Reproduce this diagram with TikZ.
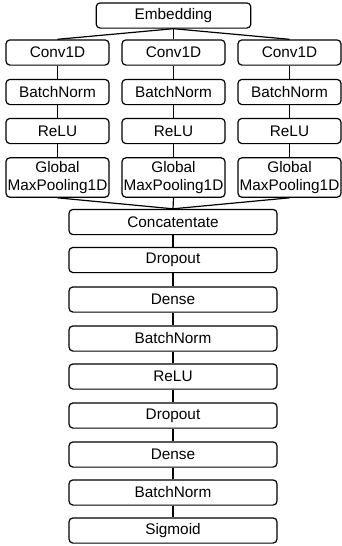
\documentclass[tikz,border=0pt]{standalone}
\usepackage{fontspec}
\setmainfont{Liberation Sans}
\begin{document}
\begin{tikzpicture}[x=0.75pt, y=-0.75pt,
  layer/.style={shape=rectangle, draw=black, line width=0.9pt, rounded corners=3pt,
    inner sep=0pt, align=center, font=\fontsize{11.5}{13.6}\selectfont,
    minimum height=18.9pt},
  branch/.style={layer, minimum width=77.3pt},
  stack/.style={layer, minimum width=156pt}]
\useasboundingbox (0,0) rectangle (342,546);
\node[layer, minimum width=116pt] (emb) at (173.5,15.5) {Embedding};
% three conv branches
\foreach \i/\x in {1/57.5, 2/173.5, 3/289.5} {
  \node[branch] (c\i) at (\x,52.5) {Conv1D};
  \node[branch] (b\i) at (\x,92) {BatchNorm};
  \node[branch] (r\i) at (\x,131) {ReLU};
  \node[branch, minimum height=29.6pt] (g\i) at (\x,177.5) {Global\\MaxPooling1D};
}
% dense head
\node[stack] (cat) at (173,222) {Concatentate};
\node[stack] (d1) at (173,260) {Dropout};
\node[stack] (dn1) at (173,299.5) {Dense};
\node[stack] (bn1) at (173,338.5) {BatchNorm};
\node[stack] (rl) at (173,376.5) {ReLU};
\node[stack] (d2) at (173,415.5) {Dropout};
\node[stack] (dn2) at (173,454.5) {Dense};
\node[stack] (bn2) at (173,492.5) {BatchNorm};
\node[stack] (sig) at (173,530.5) {Sigmoid};
\foreach \i in {1,2,3} {
  \path [-, line width=0.9pt, draw=black] (emb.south) edge (c\i.north);
  \path [-, line width=0.9pt, draw=black] (c\i) edge (b\i);
  \path [-, line width=0.9pt, draw=black] (b\i) edge (r\i);
  \path [-, line width=0.9pt, draw=black] (r\i) edge (g\i);
  \path [-, line width=0.9pt, draw=black] (g\i.south) edge (cat.north);
}
\path [-, line width=0.9pt, draw=black] (cat) edge (d1);
\path [-, line width=0.9pt, draw=black] (d1) edge (dn1);
\path [-, line width=0.9pt, draw=black] (dn1) edge (bn1);
\path [-, line width=0.9pt, draw=black] (bn1) edge (rl);
\path [-, line width=0.9pt, draw=black] (rl) edge (d2);
\path [-, line width=0.9pt, draw=black] (d2) edge (dn2);
\path [-, line width=0.9pt, draw=black] (dn2) edge (bn2);
\path [-, line width=0.9pt, draw=black] (bn2) edge (sig);
\end{tikzpicture}
\end{document}
